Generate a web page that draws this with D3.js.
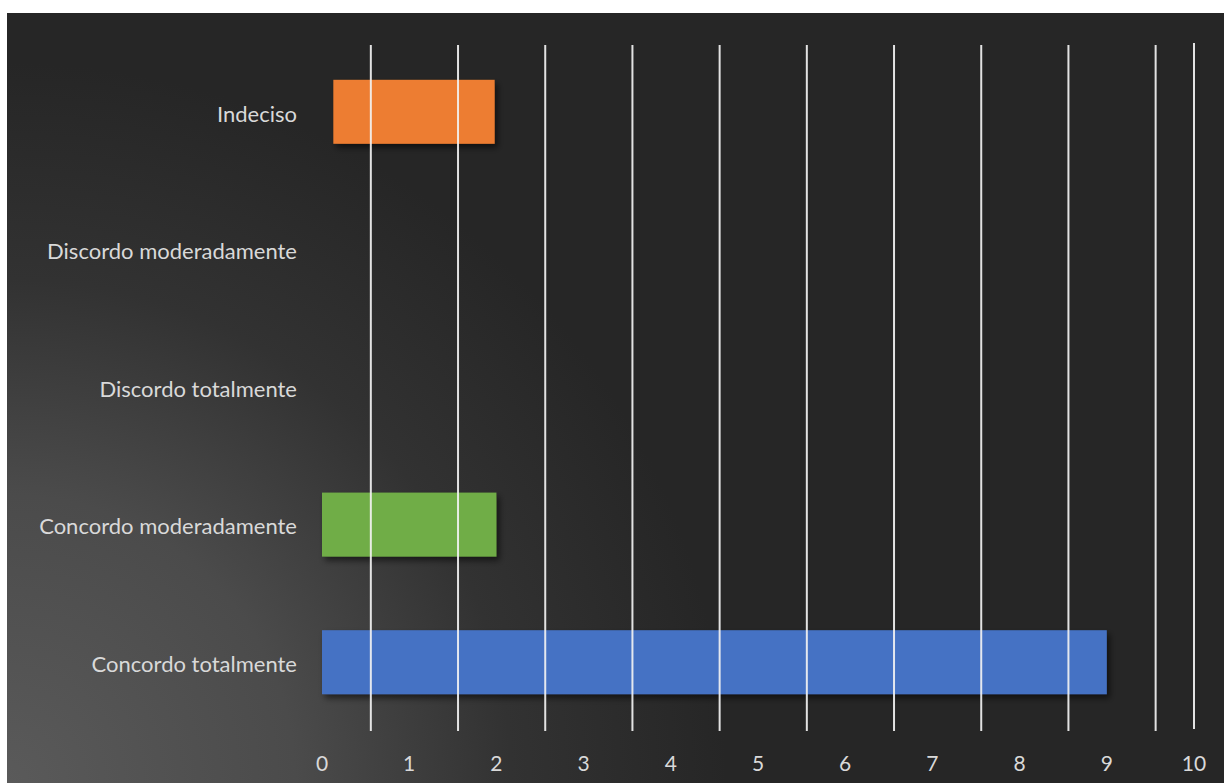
<!DOCTYPE html>
<html>
<head>
<meta charset="utf-8">
<script src="https://cdn.jsdelivr.net/npm/d3@7"></script>
<style>
  html, body { margin: 0; padding: 0; background: #ffffff; }
  svg { display: block; }
</style>
</head>
<body>
<script>
// Survey answers, bottom to top
const categories = ["Concordo totalmente", "Concordo moderadamente", "Discordo totalmente", "Discordo moderadamente", "Indeciso"];
const barStarts = [0, 0, 0, 0, 0.13];
const barValues = [9, 2, 0, 0, 1.98];
const barColors = ["#4472C4", "#70AD47", null, null, "#ED7D31"];
const tickValues = [0, 1, 2, 3, 4, 5, 6, 7, 8, 9, 10];
const gridValues = [0.56, 1.56, 2.56, 3.56, 4.56, 5.56, 6.56, 7.56, 8.56, 9.56, 10];

const W = 1224, H = 783;
const svg = d3.select("body").append("svg").attr("width", W).attr("height", H);

const defs = svg.append("defs");
const grad = defs.append("radialGradient")
  .attr("id", "bg").attr("gradientUnits", "userSpaceOnUse")
  .attr("cx", 7).attr("cy", 783).attr("r", 720);
grad.append("stop").attr("offset", 0).attr("stop-color", "#5a5a5a");
grad.append("stop").attr("offset", 0.4).attr("stop-color", "#4b4b4b");
grad.append("stop").attr("offset", 0.7).attr("stop-color", "#323232");
grad.append("stop").attr("offset", 1).attr("stop-color", "#262626");

const shadow = defs.append("filter").attr("id", "shadow")
  .attr("x", "-10%").attr("y", "-20%").attr("width", "130%").attr("height", "160%");
shadow.append("feDropShadow").attr("dx", 3).attr("dy", 4).attr("stdDeviation", 3)
  .attr("flood-color", "#000").attr("flood-opacity", 0.55);

svg.append("rect").attr("x", 7).attr("y", 13).attr("width", W - 7).attr("height", H - 13)
  .attr("fill", "url(#bg)");

const x = d3.scaleLinear().domain([0, 10]).range([322, 1194]);
const y = d3.scaleBand().domain(categories.slice().reverse()).range([43, 731]).paddingInner(0.535).paddingOuter(0.2675);

const rows = categories.map((c, i) => ({ c, s: barStarts[i], v: barValues[i], col: barColors[i] }));

// Bars
svg.append("g").selectAll("rect")
  .data(rows.filter(d => d.v > 0))
  .join("rect")
  .attr("x", d => x(d.s))
  .attr("y", d => y(d.c))
  .attr("width", d => x(d.v) - x(d.s))
  .attr("height", y.bandwidth())
  .attr("fill", d => d.col)
  .attr("filter", "url(#shadow)");

// Vertical gridlines drawn over the bars
svg.append("g").selectAll("line")
  .data(gridValues)
  .join("line")
  .attr("x1", d => x(d)).attr("x2", d => x(d))
  .attr("y1", (d, i) => i === gridValues.length - 1 ? 43 : 45)
  .attr("y2", (d, i) => i === gridValues.length - 1 ? 729 : 731)
  .attr("stroke", "#f2f2f2").attr("stroke-width", 2).attr("stroke-opacity", 0.92);

// Category labels
const font = "Lato, 'Open Sans', sans-serif";
svg.append("g").selectAll("text")
  .data(categories)
  .join("text")
  .attr("x", 297)
  .attr("y", d => y(d) + y.bandwidth() / 2 + 2)
  .attr("dy", "0.35em")
  .attr("text-anchor", "end")
  .attr("font-family", font).attr("font-size", 22)
  .attr("fill", "#d9d9d9")
  .text(d => d);

// Value axis labels
svg.append("g").selectAll("text")
  .data(tickValues)
  .join("text")
  .attr("x", d => x(d))
  .attr("y", 764)
  .attr("dy", "0.35em")
  .attr("text-anchor", "middle")
  .attr("font-family", font).attr("font-size", 21)
  .attr("fill", "#d9d9d9")
  .text(d => d);
</script>
</body>
</html>
